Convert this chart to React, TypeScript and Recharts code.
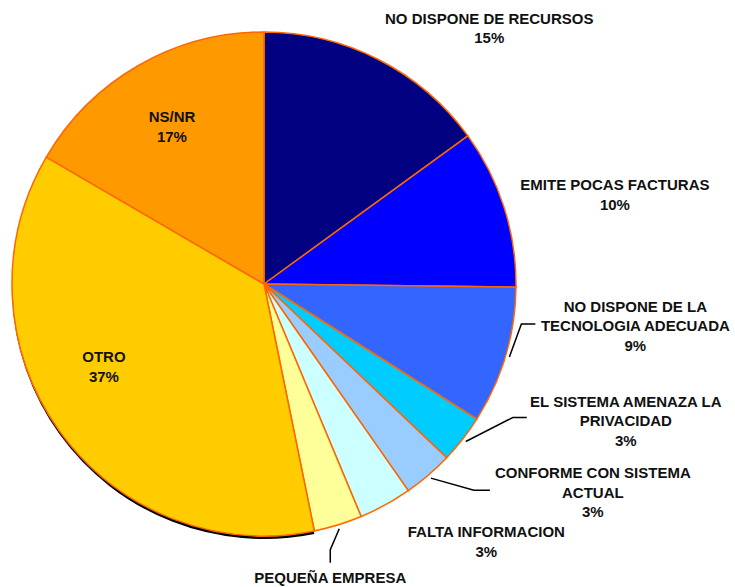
import React from 'react';
import { PieChart, Pie, Cell } from 'recharts';

// Reasons for not adopting electronic invoicing (share of answers)

const categories = [
  'NO DISPONE DE RECURSOS',
  'EMITE POCAS FACTURAS',
  'NO DISPONE DE LA TECNOLOGIA ADECUADA',
  'EL SISTEMA AMENAZA LA PRIVACIDAD',
  'CONFORME CON SISTEMA ACTUAL',
  'FALTA INFORMACION',
  'PEQUEÑA EMPRESA',
  'OTRO',
  'NS/NR',
];

const shares = [15.0, 10.2, 8.8, 3.1, 3.2, 3.4, 3.1, 36.6, 16.6];

const labelLines = [
  ['NO DISPONE DE RECURSOS'],
  ['EMITE POCAS FACTURAS'],
  ['NO DISPONE DE LA', 'TECNOLOGIA ADECUADA'],
  ['EL SISTEMA AMENAZA LA', 'PRIVACIDAD'],
  ['CONFORME CON SISTEMA', 'ACTUAL'],
  ['FALTA INFORMACION'],
  ['PEQUEÑA EMPRESA'],
  ['OTRO'],
  ['NS/NR'],
];

const sliceColors = [
  '#000080', '#0000FF', '#3366FF', '#00CCFF', '#99CCFF',
  '#CCFFFF', '#FFFF99', '#FFCC00', '#FF9900',
];

// label placement, relative to the point just outside the slice edge at its mid angle
// (the percent under PEQUEÑA EMPRESA falls below the visible area in the reference)
const labelLayout: Array<{ dx: number; dy: number; elbow?: [number, number]; tail?: [number, number]; noPct?: boolean }> = [
  { dx: 109, dy: -32 },
  { dx: 107, dy: -16 },
  { dx: 126, dy: -45, elbow: [12, -33], tail: [14, 0] },
  { dx: 160, dy: -35, elbow: [47, -24], tail: [14, 0] },
  { dx: 162, dy: 0, elbow: [43, 12], tail: [16, 0] },
  { dx: 99, dy: 29 },
  { dx: -9, dy: 54, elbow: [-9, 21], tail: [0, 13], noPct: true },
  { dx: 48, dy: -71 },
  { dx: 35.5, dy: 60 },
];

const data = categories.map((name, i) => ({ name, value: shares[i] }));

const RAD = Math.PI / 180;
const LINE_H = 19.5;

function renderLabel(props: any) {
  const { cx, cy, midAngle, outerRadius, percent, index } = props;
  const layout = labelLayout[index];
  const r = outerRadius + 4;
  const ex = cx + Math.cos(-midAngle * RAD) * r;
  const ey = cy + Math.sin(-midAngle * RAD) * r;
  const tx = ex + layout.dx;
  const ty = ey + layout.dy;
  const lines = layout.noPct
    ? [...labelLines[index]]
    : [...labelLines[index], `${Math.round(percent * 100)}%`];

  let leader = null;
  if (layout.elbow && layout.tail) {
    const bx = ex + layout.elbow[0];
    const by = ey + layout.elbow[1];
    const fx = bx + layout.tail[0];
    const fy = by + layout.tail[1];
    leader = (
      <polyline
        points={`${ex},${ey} ${bx},${by} ${fx},${fy}`}
        fill="none"
        stroke="#000"
        strokeWidth={1.5}
      />
    );
  }

  return (
    <g key={`label-${index}`}>
      {leader}
      <text
        x={tx}
        y={ty}
        textAnchor="middle"
        fill="#111"
        style={{ fontFamily: '"Liberation Sans", Arial, sans-serif', fontSize: 15, fontWeight: 700 }}
      >
        {lines.map((ln, i) => (
          <tspan key={i} x={tx} y={ty + i * LINE_H}>
            {ln}
          </tspan>
        ))}
      </text>
    </g>
  );
}

export default function App() {
  return (
    <div style={{ position: 'absolute', left: 0, top: 0, background: '#fff' }}>
      <PieChart width={735} height={587} margin={{ top: 0, right: 0, bottom: 0, left: 0 }}>
        {/* thin dark shadow under the bottom of the big slice */}
        <Pie
          data={data}
          dataKey="value"
          cx={264}
          cy={287}
          outerRadius={252}
          startAngle={90}
          endAngle={-270}
          stroke="none"
          isAnimationActive={false}
        >
          {data.map((d, i) => (
            <Cell key={`sh-${i}`} fill={d.name === 'OTRO' ? '#000' : 'none'} />
          ))}
        </Pie>
        <Pie
          data={data}
          dataKey="value"
          cx={264}
          cy={284}
          outerRadius={252}
          startAngle={90}
          endAngle={-270}
          label={renderLabel}
          labelLine={false}
          isAnimationActive={false}
        >
          {data.map((d, i) => (
            <Cell key={`cell-${i}`} fill={sliceColors[i]} stroke="#FF6600" strokeWidth={1.5} />
          ))}
        </Pie>
      </PieChart>
    </div>
  );
}
